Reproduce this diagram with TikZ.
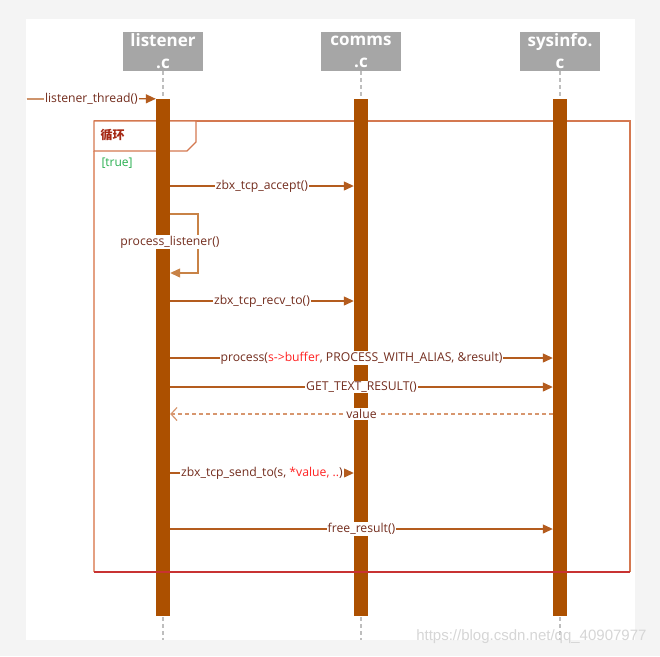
\documentclass[tikz,border=0pt]{standalone}
\usepackage{fontspec}
\setmainfont{Open Sans}
\newfontfamily\cjk{Noto Sans CJK SC}
\newfontfamily\wmfont{Liberation Sans}
\usepackage{tikz}
\usetikzlibrary{positioning,calc}
\usetikzlibrary{arrows.meta}
\definecolor{bggray}{RGB}{244,244,244}
\definecolor{headgray}{RGB}{166,166,166}
\definecolor{barbrown}{RGB}{172,80,0}
\definecolor{msgbrown}{RGB}{180,92,30}
\definecolor{loopbrown}{RGB}{200,130,70}
\definecolor{replybrown}{RGB}{215,150,110}
\definecolor{labelbrown}{RGB}{115,45,30}
\definecolor{redtext}{RGB}{255,35,35}
\definecolor{guardgreen}{RGB}{40,175,80}
\definecolor{framecol}{RGB}{212,120,80}
\definecolor{frameleft}{RGB}{228,160,130}
\definecolor{framered}{RGB}{200,50,50}
\definecolor{loopred}{RGB}{165,40,20}
\definecolor{linegray}{RGB}{190,190,190}
\tikzstyle{header} = [rectangle, fill=headgray, text=white, font=\fontsize{17}{22}\selectfont\bfseries,
align=center, minimum width=80pt, minimum height=39pt, inner sep=0pt]
\tikzstyle{bar} = [rectangle, fill=barbrown, minimum width=14pt, minimum height=517pt, inner sep=0pt]
\tikzstyle{lifeline} = [draw=linegray, line width=1.5pt, dash pattern=on 4pt off 3pt]
\tikzstyle{msg} = [draw=msgbrown, line width=1.2pt, -{Triangle[length=10pt,width=9pt]}]
\tikzstyle{reply} = [draw=replybrown, line width=1.2pt, dash pattern=on 4pt off 3pt, -{Straight Barb[length=6pt,width=13pt]}]
\tikzstyle{lbl} = [fill=white, text=labelbrown, font=\fontsize{12.2}{14}\selectfont, inner sep=1pt]

\begin{document}
\begin{tikzpicture}[x=1pt,y=-1pt]
\fill[bggray] (0,0) rectangle (660,656);
\fill[white] (26,19) rectangle (635,640);
\useasboundingbox (0,0) rectangle (660,656);
\node (hl) at (163,51.5) [header] {listener\\.c};
\node (hc) at (361,51.5) [header] {comms\\.c};
\node (hs) at (560,51.5) [header] {sysinfo.\\c};
\coordinate (lend) at (163,640);
\coordinate (cend) at (361,640);
\coordinate (send) at (560,640);
\draw[lifeline] (hl) -- (lend);
\draw[lifeline] (hc) -- (cend);
\draw[lifeline] (hs) -- (send);
\draw[frameleft, line width=2pt] (94,572) -- (94,151);
\draw[framecol, line width=1.2pt] (94,121) -- (630,121) -- (630,572);
\draw[framecol, line width=1.4pt, fill=white] (94,121) -- (196,121) -- (196,142) -- (187,151) -- (94,151) -- cycle;
\node (loopname) at (97,135) [anchor=west, text=loopred, font=\fontsize{12}{14}\selectfont\cjk\bfseries] {循环};
\node (guard) at (98,163) [anchor=west, text=guardgreen, font=\fontsize{12}{14}\selectfont] {[true]};
\node (lbar) at (163,357.5) [bar] {};
\node (cbar) at (361,357.5) [bar] {};
\node (sbar) at (560,357.5) [bar] {};
\draw[framered, line width=1.5pt] (94,572) -- (630,572);
\coordinate (start) at (27,99);
\draw[msg] (start) -- (lbar.north west) node[lbl, midway] {listener\_thread()};
\draw[msg] (lbar.east |- 0,186) -- (cbar.west |- 0,186) node[lbl, midway] {zbx\_tcp\_accept()};
\draw[msg, draw=loopbrown] (lbar.east |- 0,214) -- (198,214) -- (198,273) -- (lbar.east |- 0,273);
\node (pl) at (170,242) [lbl] {process\_listener()};
\draw[msg] (lbar.east |- 0,301) -- (cbar.west |- 0,301) node[lbl, midway] {zbx\_tcp\_recv\_to()};
\draw[msg] (lbar.east |- 0,358) -- (sbar.west |- 0,358) node[lbl, midway]
  {process({\color{redtext}s->buffer}, PROCESS\_WITH\_ALIAS, \&result)};
\draw[msg] (lbar.east |- 0,387) -- (sbar.west |- 0,387) node[lbl, midway] {GET\_TEXT\_RESULT()};
\draw[reply] (sbar.west |- 0,414) -- (lbar.east |- 0,414) node[lbl, midway] {value};
\draw[msg] (lbar.east |- 0,473) -- (cbar.west |- 0,473) node[lbl, midway]
  {zbx\_tcp\_send\_to(s, {\color{redtext}*value, ..})};
\draw[msg] (lbar.east |- 0,529) -- (sbar.west |- 0,529) node[lbl, midway] {free\_result()};
\node (wm) at (650,637) [anchor=east, text=black!16, font=\fontsize{15}{16}\selectfont\wmfont] {https://blog.csdn.net/qq\_40907977};
\end{tikzpicture}
\end{document}
